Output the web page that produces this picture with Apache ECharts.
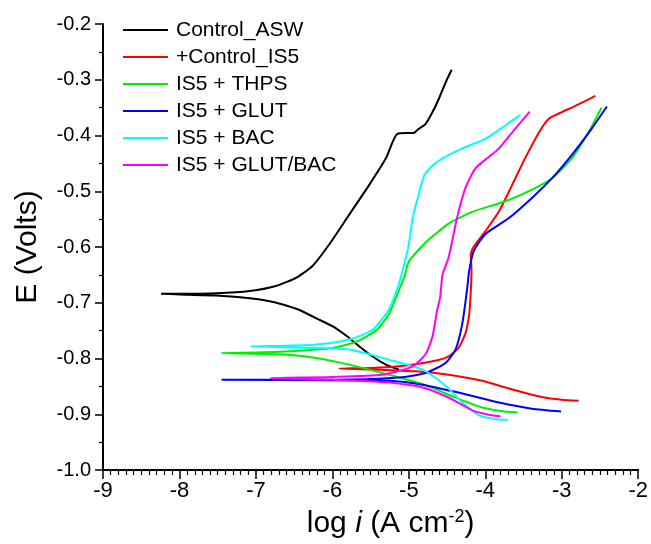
<!DOCTYPE html>
<html>
<head>
<meta charset="utf-8">
<script src="https://cdn.jsdelivr.net/npm/echarts@6/dist/echarts.min.js"></script>
<style>html,body{margin:0;padding:0;background:#fff;}#c{width:651px;height:544px;}</style>
</head>
<body>
<div id="c"></div>
<script>
const seriesNames = ['Control_ASW', '+Control_IS5', 'IS5 + THPS', 'IS5 + GLUT', 'IS5 + BAC', 'IS5 + GLUT/BAC'];
const seriesColors = ['#000000', '#ff0000', '#00ee00', '#0000ff', '#00ffff', '#ff00ff'];

const aswX = [-5.13, -5.30, -5.48, -5.65, -5.80, -6.00, -6.21, -6.43, -6.65, -6.87, -7.08, -7.52, -8.00, -8.24,
  -8.00, -7.52, -7.08, -6.74, -6.47, -6.26, -6.04, -5.78, -5.52, -5.30, -5.15, -4.93, -4.87, -4.78, -4.69, -4.61, -4.52, -4.44];
const aswY = [-0.820, -0.811, -0.796, -0.778, -0.761, -0.742, -0.728, -0.713, -0.703, -0.696, -0.692, -0.687, -0.685, -0.684,
  -0.684, -0.683, -0.679, -0.670, -0.655, -0.634, -0.595, -0.542, -0.489, -0.441, -0.397, -0.395, -0.388, -0.379, -0.358, -0.335, -0.305, -0.282];

const is5X = [-2.78, -3.00, -3.26, -3.61, -4.04, -4.48, -4.91, -5.40, -5.91,
  -5.50, -5.13, -4.69, -4.48, -4.35, -4.26, -4.21, -4.19, -4.18, -4.19, -4.17, -4.10, -4.00, -3.82, -3.65, -3.48, -3.30, -3.17, -3.00, -2.87, -2.56];
const is5Y = [-0.876, -0.874, -0.869, -0.857, -0.840, -0.829, -0.823, -0.820, -0.818,
  -0.817, -0.814, -0.805, -0.796, -0.781, -0.755, -0.720, -0.680, -0.642, -0.615, -0.604, -0.590, -0.572, -0.536, -0.489, -0.441, -0.395, -0.370, -0.358, -0.350, -0.329];

const thpsX = [-3.58, -3.80, -4.04, -4.39, -4.82, -5.35, -5.78, -6.21, -6.65, -7.45,
  -6.90, -6.43, -6.00, -5.69, -5.43, -5.26, -5.13, -5.06, -5.00, -4.78, -4.48, -4.17, -3.74, -3.39, -3.13, -2.87, -2.65, -2.48];
const thpsY = [-0.897, -0.894, -0.888, -0.870, -0.846, -0.826, -0.811, -0.799, -0.793, -0.790,
  -0.789, -0.786, -0.781, -0.770, -0.750, -0.720, -0.678, -0.654, -0.626, -0.592, -0.558, -0.537, -0.518, -0.497, -0.477, -0.441, -0.394, -0.350];

const glutX = [-3.01, -3.39, -3.82, -4.26, -4.82, -5.26, -6.00, -7.45,
  -6.50, -6.00, -5.13, -4.78, -4.52, -4.39, -4.30, -4.24, -4.21, -4.15, -4.00, -3.69, -3.39, -3.13, -2.87, -2.61, -2.41];
const glutY = [-0.895, -0.890, -0.879, -0.864, -0.847, -0.840, -0.839, -0.838,
  -0.838, -0.838, -0.834, -0.826, -0.808, -0.784, -0.737, -0.678, -0.642, -0.607, -0.577, -0.548, -0.512, -0.477, -0.435, -0.388, -0.348];

const bacX = [-3.70, -3.85, -4.08, -4.30, -4.52, -4.82, -5.26, -5.78, -6.21, -7.07,
  -6.60, -6.21, -5.78, -5.48, -5.26, -5.13, -5.05, -5.00, -4.95, -4.89, -4.80, -4.70, -4.56, -4.30, -4.00, -3.74, -3.54];
const bacY = [-0.910, -0.909, -0.902, -0.879, -0.849, -0.820, -0.802, -0.784, -0.781, -0.778,
  -0.777, -0.775, -0.766, -0.749, -0.712, -0.666, -0.625, -0.595, -0.548, -0.515, -0.472, -0.455, -0.441, -0.423, -0.406, -0.382, -0.363];

const glutBacX = [-3.80, -3.95, -4.17, -4.48, -4.82, -5.26, -6.00, -6.81,
  -6.00, -5.35, -4.95, -4.78, -4.69, -4.63, -4.59, -4.56, -4.48, -4.37, -4.26, -4.13, -3.95, -3.82, -3.61, -3.42];
const glutBacY = [-0.904, -0.901, -0.893, -0.870, -0.852, -0.843, -0.838, -0.835,
  -0.833, -0.829, -0.814, -0.792, -0.760, -0.713, -0.690, -0.650, -0.619, -0.548, -0.494, -0.459, -0.438, -0.423, -0.388, -0.357];

const xTicks = [-9, -8, -7, -6, -5, -4, -3, -2];
const yTicks = [-1.0, -0.9, -0.8, -0.7, -0.6, -0.5, -0.4, -0.3, -0.2];

const allX = [aswX, is5X, thpsX, glutX, bacX, glutBacX];
const allY = [aswY, is5Y, thpsY, glutY, bacY, glutBacY];

const FONT = 'Liberation Sans, Arial, sans-serif';

const series = seriesNames.map((name, i) => ({
  name: name,
  type: 'line',
  data: allX[i].map((x, k) => [x, allY[i][k]]),
  showSymbol: false,
  symbol: 'none',
  smooth: 0.2,
  lineStyle: { color: seriesColors[i], width: 2 },
  itemStyle: { color: seriesColors[i] },
  animation: false
}));

const chart = echarts.init(document.getElementById('c'), null, { renderer: 'canvas' });
chart.setOption({
  animation: false,
  backgroundColor: '#ffffff',
  grid: { left: 103, right: 11, top: 24, bottom: 69, containLabel: false },
  legend: {
    orient: 'vertical',
    left: 118,
    top: 14,
    icon: 'rect',
    itemWidth: 45,
    itemHeight: 2,
    itemGap: 5,
    data: seriesNames,
    textStyle: { fontFamily: FONT, fontSize: 21, color: '#000', lineHeight: 22, padding: [0, 0, 0, 3] }
  },
  xAxis: {
    type: 'value',
    min: xTicks[0],
    max: xTicks[xTicks.length - 1],
    interval: 1,
    name: 'log {it|i} (A cm{sup|-2})',
    nameLocation: 'middle',
    nameGap: 38,
    nameTextStyle: {
      fontFamily: FONT, fontSize: 30, color: '#000', padding: [0, 0, 0, 40],
      rich: {
        it: { fontFamily: FONT, fontSize: 30, fontStyle: 'italic', color: '#000' },
        sup: { fontFamily: FONT, fontSize: 18, color: '#000', verticalAlign: 'top', padding: [0, 0, 14, 0] }
      }
    },
    axisLine: { show: true, onZero: false, lineStyle: { color: '#000', width: 2 } },
    axisTick: { show: true, inside: false, length: 9, lineStyle: { color: '#000', width: 1.5 } },
    minorTick: { show: true, splitNumber: 10, length: 5, lineStyle: { color: '#000', width: 1.2 } },
    splitLine: { show: false },
    axisLabel: { fontFamily: FONT, fontSize: 22, color: '#000', margin: 10, formatter: v => String(v) }
  },
  yAxis: {
    type: 'value',
    min: yTicks[0],
    max: yTicks[yTicks.length - 1],
    interval: 0.1,
    name: 'E (Volts)',
    nameLocation: 'middle',
    nameGap: 60,
    nameTextStyle: { fontFamily: FONT, fontSize: 30, color: '#000' },
    axisLine: { show: true, onZero: false, lineStyle: { color: '#000', width: 2 } },
    axisTick: { show: true, inside: false, length: 8, lineStyle: { color: '#000', width: 1.5 } },
    minorTick: { show: true, splitNumber: 2, length: 4, lineStyle: { color: '#000', width: 1.2 } },
    splitLine: { show: false },
    axisLabel: { fontFamily: FONT, fontSize: 20, color: '#000', margin: 12, formatter: v => v.toFixed(1) }
  },
  series: series
});
</script>
</body>
</html>
